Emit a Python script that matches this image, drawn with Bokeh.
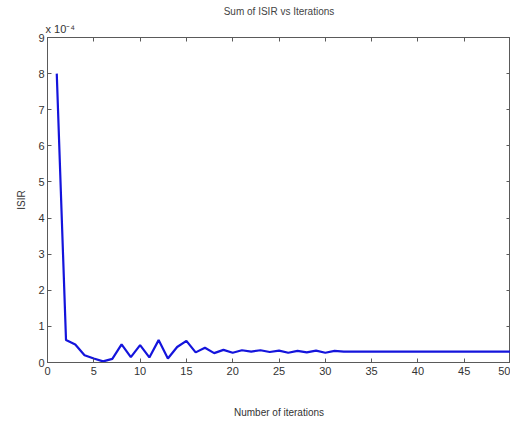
from bokeh.plotting import figure
from bokeh.models import FixedTicker, Range1d, LinearAxis, Title
from bokeh.embed import file_html
from bokeh.resources import INLINE

title_text = "Sum of ISIR vs Iterations"
x_label = "Number of iterations"
y_label = "ISIR"
multiplier_text = "x 10\u207b\u2074"

iterations = list(range(1, 51))
isir = [8.0, 0.62, 0.5, 0.2, 0.11, 0.03, 0.1, 0.5, 0.15, 0.48,
        0.14, 0.62, 0.11, 0.43, 0.6, 0.28, 0.41, 0.26, 0.35, 0.27,
        0.34, 0.3, 0.34, 0.29, 0.33, 0.27, 0.32, 0.28, 0.33, 0.27,
        0.32, 0.3, 0.3, 0.3, 0.3, 0.3, 0.3, 0.3, 0.3, 0.3,
        0.3, 0.3, 0.3, 0.3, 0.3, 0.3, 0.3, 0.3, 0.3, 0.3]
x_ticks = [0, 5, 10, 15, 20, 25, 30, 35, 40, 45, 50]
y_ticks = [0, 1, 2, 3, 4, 5, 6, 7, 8, 9]

FONT = "Liberation Sans"
AX = "#5a5a5a"

p = figure(width=510, height=420, output_backend="svg", toolbar_location=None,
           x_range=Range1d(0, 50), y_range=Range1d(0, 9),
           min_border_left=47, min_border_right=0, min_border_top=37,
           min_border_bottom=55)
p.title.visible = False

p.grid.visible = False
p.outline_line_color = AX
p.outline_line_width = 1
p.background_fill_color = "white"
p.border_fill_color = "white"

def style(ax, ticks, labels=True):
    ax.ticker = FixedTicker(ticks=ticks)
    ax.major_tick_in = 4
    ax.major_tick_out = 0
    ax.minor_tick_line_color = None
    ax.axis_line_color = AX
    ax.major_tick_line_color = AX
    ax.major_label_text_font = FONT
    ax.major_label_text_font_size = "11px"
    ax.major_label_text_color = "#333333"
    ax.axis_label_text_font = FONT
    ax.axis_label_text_font_size = "10px"
    ax.axis_label_text_font_style = "normal"
    ax.axis_label_text_color = "#333333"
    if not labels:
        ax.major_label_overrides = {t: "" for t in ticks}
        ax.major_label_text_font_size = "1px"
        ax.major_label_text_color = None
        ax.major_label_standoff = 0

style(p.xaxis[0], x_ticks)
style(p.yaxis[0], y_ticks)
p.xaxis[0].axis_label = x_label
p.xaxis[0].major_label_standoff = 4
p.xaxis[0].axis_label_standoff = 29
p.yaxis[0].axis_label = y_label
p.yaxis[0].major_label_standoff = 3
p.yaxis[0].axis_label_standoff = 8

top_axis = LinearAxis()
style(top_axis, x_ticks, labels=False)
right_axis = LinearAxis()
style(right_axis, y_ticks, labels=False)
p.add_layout(right_axis, "right")

mult = Title(text=multiplier_text, align="left", text_font=FONT,
             text_font_size="11px", text_font_style="normal",
             text_color="#333333", offset=-2, standoff=6)
main = Title(text=title_text, align="center", text_font=FONT,
             text_font_size="10px", text_font_style="normal",
             text_color="#444444", offset=0, standoff=2)
p.above = [top_axis, mult, main]

p.line(iterations, isir, line_color="#1414dc", line_width=2.2)

open("out.html", "w").write(file_html(p, INLINE))
